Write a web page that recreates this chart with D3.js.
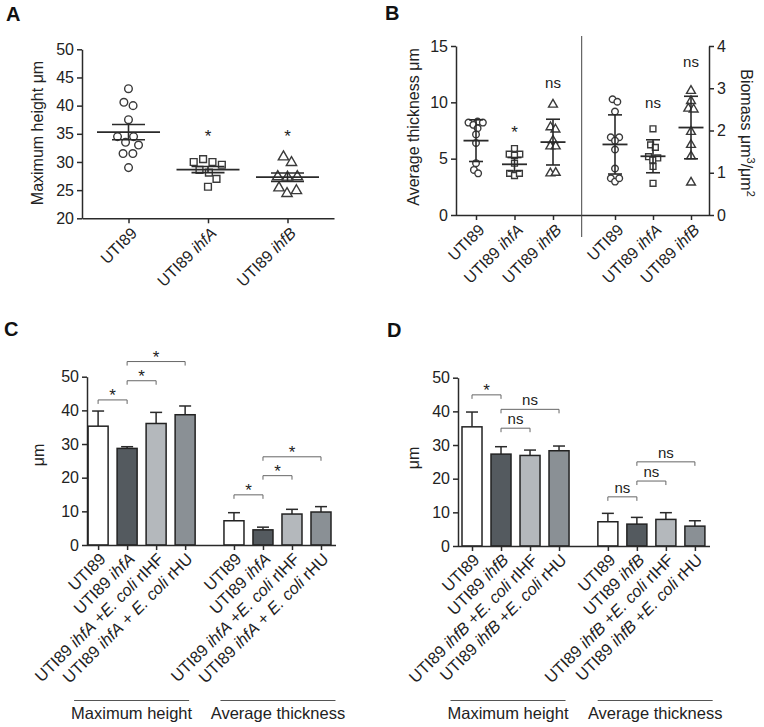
<!DOCTYPE html>
<html><head><meta charset="utf-8">
<script src="https://cdn.jsdelivr.net/npm/d3@7"></script>
<style>
body{margin:0;background:#fff}
svg{display:block}
</style>
</head><body>
<svg id="chart" width="764" height="727"></svg>
<script>
// ---------------- DATA ----------------
// Panel A: maximum height (µm), individual biofilms
const catsA = ["UTI89", "UTI89 ihfA", "UTI89 ihfB"];
const maxHeightUTI89 = [43, 40.6, 40, 37.5, 34.5, 34.5, 33.5, 33, 31.5, 31.5, 29];
const maxHeightIhfA = [30.5, 30, 30, 29.5, 28.6, 28.1, 27, 25.6];
const maxHeightIhfB = [30.9, 29.9, 27.4, 27.3, 27.4, 25.4, 24.4, 24.9];
const maxHeightMean = [35.3, 28.65, 27.3];
const maxHeightSEM = [1.35, 0.55, 0.75];
const maxHeightSig = ["", "*", "*"];
const maxHeightSigAt = [null, 33.5, 33.5];
const ticksA = [20, 25, 30, 35, 40, 45, 50];

// Panel B: average thickness (µm) and biomass (µm3/µm2)
const catsB = ["UTI89", "UTI89 ihfA", "UTI89 ihfB"];
const thickUTI89 = [8.2, 8.3, 8.2, 8.0, 7.7, 7.15, 6.4, 4.6, 4.0, 3.7];
const thickIhfA = [5.9, 5.4, 5.4, 5.3, 4.6, 3.7, 3.5, 3.7];
const thickIhfB = [9.8, 7.8, 7.6, 6.6, 6.1, 6.1, 3.7, 3.75];
const thickMean = [6.6, 4.5, 6.47];
const thickSD = [1.85, 0.6, 2.03];
const thickSig = ["", "*", "ns"];
const thickSigAt = [null, 6.83, 11.27];
const bioUTI89 = [2.74, 2.68, 2.45, 1.84, 1.84, 1.76, 1.55, 1.1, 0.87, 0.79, 0.87];
const bioIhfA = [2.04, 1.66, 1.6, 1.38, 1.35, 1.3, 1.15, 0.75];
const bioIhfB = [2.94, 2.7, 2.52, 2.5, 1.97, 1.66, 1.39, 0.77];
const bioMean = [1.67, 1.39, 2.07];
const bioSD = [0.7, 0.39, 0.74];
const bioSig = ["", "ns", "ns"];
const bioSigAt = [null, 2.53, 3.5];
const ticksBLeft = [0, 5, 10, 15];
const ticksBRight = [0, 1, 2, 3, 4];

// Panels C and D: bar charts (mean + error)
const groups = ["Maximum height", "Average thickness"];
const condC = ["UTI89", "UTI89 ihfA", "UTI89 ihfA +E. coli rIHF", "UTI89 ihfA + E. coli rHU"];
const cMaxHeight = [35.3, 28.7, 36.1, 38.7];
const cMaxHeightErr = [4.5, 0.5, 3.3, 2.6];
const cAvgThick = [7.2, 4.5, 9.2, 9.8];
const cAvgThickErr = [2.4, 0.8, 1.4, 1.6];
const cBrackets = [
  {g: 0, a: 0, b: 1, y: 43.1, label: "*"},
  {g: 0, a: 1, b: 2, y: 48.8, label: "*"},
  {g: 0, a: 1, b: 3, y: 54.5, label: "*"},
  {g: 1, a: 0, b: 1, y: 14.9, label: "*"},
  {g: 1, a: 1, b: 2, y: 20.6, label: "*"},
  {g: 1, a: 1, b: 3, y: 26.2, label: "*"}
];
const condD = ["UTI89", "UTI89 ihfB", "UTI89 ihfB +E. coli rIHF", "UTI89 ihfB +E. coli rHU"];
const dMaxHeight = [35.4, 27.3, 26.9, 28.3];
const dMaxHeightErr = [4.4, 2.2, 1.6, 1.4];
const dAvgThick = [7.2, 6.5, 7.9, 5.9];
const dAvgThickErr = [2.5, 2.0, 2.0, 1.6];
const dBrackets = [
  {g: 0, a: 0, b: 1, y: 44.9, label: "*"},
  {g: 0, a: 1, b: 2, y: 35.0, label: "ns"},
  {g: 0, a: 1, b: 3, y: 40.6, label: "ns"},
  {g: 1, a: 0, b: 1, y: 14.6, label: "ns"},
  {g: 1, a: 1, b: 2, y: 19.3, label: "ns"},
  {g: 1, a: 1, b: 3, y: 25.0, label: "ns"}
];
const ticksCD = [0, 10, 20, 30, 40, 50];
const barColors = ["#ffffff", "#545a5f", "#b4b8bc", "#8a9095"];

// ---------------- DRAWING ----------------
const FONT = "'Liberation Sans', Arial, Helvetica, sans-serif";
const INK = "#2a2a2a";
const svg = d3.select("#chart").attr("font-family", FONT);
svg.append("rect").attr("width", 764).attr("height", 727).attr("fill", "#fff");

function styleAxis(g, fs) {
  g.attr("font-family", FONT).attr("font-size", fs).attr("color", INK);
  g.selectAll("path,line").attr("stroke-width", 1.5);
  g.selectAll("text").attr("fill", "#222");
}
function richLabel(t, label) {
  t.text(null);
  label.split(/(ihfA|ihfB|E\. coli)/).filter(s => s.length).forEach(s => {
    t.append("tspan").text(s)
      .attr("font-style", /^(ihfA|ihfB|E\. coli)$/.test(s) ? "italic" : "normal");
  });
}
function rotLabels(g, labelOf, dx, dy) {
  g.selectAll(".tick text").each(function (d) {
    const t = d3.select(this);
    richLabel(t, labelOf(d));
    t.attr("text-anchor", "end").attr("x", 0).attr("y", 0).attr("dy", "0.35em")
      .attr("transform", `translate(${dx},${dy}) rotate(-45)`);
  });
}
function panelLabel(txt, x, y) {
  svg.append("text").attr("x", x).attr("y", y).text(txt)
    .attr("font-size", 20).attr("font-weight", "bold").attr("fill", "#111");
}
function vTitle(g, x, y, rot, build, fs) {
  const t = g.append("text").attr("transform", `translate(${x},${y}) rotate(${rot})`)
    .attr("text-anchor", "middle").attr("dy", "0.35em").attr("font-size", fs).attr("fill", "#222");
  build(t);
  return t;
}
function swarm(vals, cx, yScale, r) {
  const n = vals.length;
  const nodes = vals.map((v, i) => ({v, x: cx + (i - (n - 1) / 2) * 0.6, y: yScale(v), fy: yScale(v)}));
  const sim = d3.forceSimulation(nodes)
    .force("x", d3.forceX(cx).strength(0.06))
    .force("c", d3.forceCollide(r).iterations(3))
    .stop();
  for (let i = 0; i < 400; i++) sim.tick();
  return nodes;
}
const symTypes = [d3.symbolCircle, d3.symbolSquare, d3.symbolTriangle];

function dotGroup(g, vals, cx, yScale, symIdx, symSize, collideR) {
  const nodes = swarm(vals, cx, yScale, collideR);
  g.selectAll(null).data(nodes).join("path")
    .attr("d", d3.symbol().type(symTypes[symIdx]).size(symSize))
    .attr("transform", d => `translate(${d.x},${d.y})`)
    .attr("fill", "#fff").attr("stroke", "#3a3a3a").attr("stroke-width", 1.4);
}
function meanErr(g, cx, mean, err, yScale, halfMean, halfCap) {
  g.append("line").attr("x1", cx - halfMean).attr("x2", cx + halfMean)
    .attr("y1", yScale(mean)).attr("y2", yScale(mean)).attr("stroke", INK).attr("stroke-width", 1.8);
  g.append("line").attr("x1", cx).attr("x2", cx)
    .attr("y1", yScale(mean + err)).attr("y2", yScale(mean - err)).attr("stroke", INK).attr("stroke-width", 1.6);
  [mean + err, mean - err].forEach(v => {
    g.append("line").attr("x1", cx - halfCap).attr("x2", cx + halfCap)
      .attr("y1", yScale(v)).attr("y2", yScale(v)).attr("stroke", INK).attr("stroke-width", 1.6);
  });
}
function sigText(g, x, y, label) {
  g.append("text").attr("x", x).attr("y", y).attr("text-anchor", "middle")
    .attr("font-size", label === "*" ? 17 : 15).attr("fill", "#222").text(label);
}

// ===== Panel A =====
(function () {
  const g = svg.append("g");
  const y = d3.scaleLinear().domain([20, 50]).range([218.3, 49.3]);
  const x = d3.scalePoint().domain(catsA).range([82, 334]).padding(0.585);
  g.append("g").attr("transform", "translate(82,0)")
    .call(d3.axisLeft(y).tickValues(ticksA).tickSize(5).tickSizeOuter(0).tickPadding(3))
    .call(styleAxis, 16);
  const xa = g.append("g").attr("transform", "translate(0,218.3)")
    .call(d3.axisBottom(x).tickSize(5).tickSizeOuter(0))
    .call(styleAxis, 16);
  rotLabels(xa, d => d, 5, 12);
  const series = [maxHeightUTI89, maxHeightIhfA, maxHeightIhfB];
  series.forEach((vals, i) => dotGroup(g, vals, x(catsA[i]), y, i, 46, 4.9));
  catsA.forEach((c, i) => {
    meanErr(g, x(c), maxHeightMean[i], maxHeightSEM[i], y, 31.5, 16.5);
    if (maxHeightSig[i]) sigText(g, x(c), y(maxHeightSigAt[i]), maxHeightSig[i]);
  });
  vTitle(g, 37, 133, -90, t => t.text("Maximum height μm"), 16);
  panelLabel("A", 6, 21);
})();

// ===== Panel B =====
(function () {
  const g = svg.append("g");
  const yL = d3.scaleLinear().domain([0, 15]).range([215, 46]);
  const yR = d3.scaleLinear().domain([0, 4]).range([215, 46]);
  const xL = d3.scalePoint().domain(catsB).range([476, 553]);
  const xR = d3.scalePoint().domain(catsB).range([615, 691]);
  g.append("g").attr("transform", "translate(456,0)")
    .call(d3.axisLeft(yL).tickValues(ticksBLeft).tickSize(5).tickSizeOuter(0).tickPadding(3))
    .call(styleAxis, 16);
  g.append("g").attr("transform", "translate(709,0)")
    .call(d3.axisRight(yR).tickValues(ticksBRight).tickFormat(d3.format("d")).tickSize(5).tickSizeOuter(0).tickPadding(3))
    .call(styleAxis, 16);
  const xKeys = catsB.map(c => "L|" + c).concat(catsB.map(c => "R|" + c));
  const xAll = d3.scaleOrdinal().domain(xKeys)
    .range(catsB.map(c => xL(c)).concat(catsB.map(c => xR(c))));
  const xa = g.append("g").attr("transform", "translate(0,215)")
    .call(d3.axisBottom(xAll).tickSize(5).tickSizeOuter(0))
    .call(styleAxis, 16);
  xa.select(".domain").remove();
  xa.append("line").attr("x1", 456).attr("x2", 709).attr("y1", 0.5).attr("y2", 0.5)
    .attr("stroke", INK).attr("stroke-width", 1.5);
  rotLabels(xa, d => d.split("|")[1], 5, 12);
  g.append("line").attr("x1", 581.7).attr("x2", 581.7).attr("y1", 36).attr("y2", 237)
    .attr("stroke", "#444").attr("stroke-width", 1);

  [thickUTI89, thickIhfA, thickIhfB].forEach((vals, i) => dotGroup(g, vals, xL(catsB[i]), yL, i, 34, 2.7));
  [bioUTI89, bioIhfA, bioIhfB].forEach((vals, i) => dotGroup(g, vals, xR(catsB[i]), yR, i, 34, 2.7));
  catsB.forEach((c, i) => {
    meanErr(g, xL(c), thickMean[i], thickSD[i], yL, 12.5, 7);
    meanErr(g, xR(c), bioMean[i], bioSD[i], yR, 12.5, 7);
    if (thickSig[i]) sigText(g, xL(c), yL(thickSigAt[i]), thickSig[i]);
    if (bioSig[i]) sigText(g, xR(c), yR(bioSigAt[i]), bioSig[i]);
  });
  vTitle(g, 413, 127, -90, t => t.text("Average thickness μm"), 16);
  vTitle(g, 747, 133, 90, t => {
    t.append("tspan").text("Biomass μm");
    t.append("tspan").text("3").attr("dy", -6).attr("font-size", 11);
    t.append("tspan").text("/μm").attr("dy", 6);
    t.append("tspan").text("2").attr("dy", -6).attr("font-size", 11);
  }, 16);
  panelLabel("B", 385, 20);
})();

// ===== Panels C & D =====
function barPanel(o) {
  const g = svg.append("g");
  const y = d3.scaleLinear().domain([0, 50]).range([o.y0, o.y50]);
  const x0 = d3.scaleBand().domain(groups).range(o.groupRange).paddingInner(0.146).paddingOuter(0);
  const x1 = d3.scaleBand().domain(o.conds).range([0, x0.bandwidth()]).paddingInner(0.31).paddingOuter(0.155);
  const cx = (gi, ci) => x0(groups[gi]) + x1(o.conds[ci]) + x1.bandwidth() / 2;

  g.append("g").attr("transform", `translate(${o.axisX},0)`)
    .call(d3.axisLeft(y).tickValues(ticksCD).tickSize(5).tickSizeOuter(0).tickPadding(3))
    .call(styleAxis, 16);

  const keys = [], pos = [];
  groups.forEach((gr, gi) => o.conds.forEach((c, ci) => { keys.push(gi + "|" + c); pos.push(cx(gi, ci)); }));
  const xAll = d3.scaleOrdinal().domain(keys).range(pos);
  const xa = g.append("g").attr("transform", `translate(0,${o.y0})`)
    .call(d3.axisBottom(xAll).tickSize(5).tickSizeOuter(0))
    .call(styleAxis, 16.5);
  xa.select(".domain").remove();
  rotLabels(xa, d => d.split("|")[1], 4, 11);

  const series = [[o.max, o.maxErr], [o.avg, o.avgErr]];
  series.forEach(([vals, errs], gi) => {
    vals.forEach((v, ci) => {
      const xc = cx(gi, ci), bw = x1.bandwidth();
      g.append("line").attr("x1", xc).attr("x2", xc).attr("y1", y(v)).attr("y2", y(v + errs[ci]))
        .attr("stroke", INK).attr("stroke-width", 1.5);
      g.append("line").attr("x1", xc - 6).attr("x2", xc + 6).attr("y1", y(v + errs[ci])).attr("y2", y(v + errs[ci]))
        .attr("stroke", INK).attr("stroke-width", 1.5);
      g.append("rect").attr("x", xc - bw / 2).attr("width", bw)
        .attr("y", y(v)).attr("height", y(0) - y(v))
        .attr("fill", barColors[ci]).attr("stroke", "#222").attr("stroke-width", 1.5);
    });
  });
  g.append("line").attr("x1", o.axisX).attr("x2", o.axisEnd).attr("y1", o.y0 + 0.5).attr("y2", o.y0 + 0.5)
    .attr("stroke", INK).attr("stroke-width", 1.6);

  o.brackets.forEach(b => {
    const xa1 = cx(b.g, b.a), xb1 = cx(b.g, b.b), yy = y(b.y);
    g.append("path").attr("d", `M${xa1},${yy + 4}V${yy}H${xb1}V${yy + 4}`)
      .attr("fill", "none").attr("stroke", "#666").attr("stroke-width", 1);
    sigText(g, (xa1 + xb1) / 2, b.label === "*" ? yy + 1 : yy - 4, b.label);
  });

  groups.forEach((gr, gi) => {
    const mid = x0(gr) + x0.bandwidth() / 2 + o.groupShift[gi];
    g.append("line").attr("x1", mid - 57.5).attr("x2", mid + 57.5).attr("y1", 700.5).attr("y2", 700.5)
      .attr("stroke", "#555").attr("stroke-width", 1);
    g.append("text").attr("x", mid).attr("y", 719).attr("text-anchor", "middle")
      .attr("font-size", 16.5).attr("fill", "#222").text(gr);
  });
  vTitle(g, o.titleX, o.titleY, -90, t => t.text("μm"), 16);
}

barPanel({
  conds: condC, max: cMaxHeight, maxErr: cMaxHeightErr, avg: cAvgThick, avgErr: cAvgThickErr,
  brackets: cBrackets, y0: 545, y50: 376.7, axisX: 87, axisEnd: 336,
  groupRange: [83.6, 335.5], groupShift: [-10, 0.5], titleX: 38, titleY: 455
});
barPanel({
  conds: condD, max: dMaxHeight, maxErr: dMaxHeightErr, avg: dAvgThick, avgErr: dAvgThickErr,
  brackets: dBrackets, y0: 546, y50: 377.7, axisX: 458, axisEnd: 710,
  groupRange: [457.5, 709.4], groupShift: [-7.5, 3.8], titleX: 413, titleY: 458
});
panelLabel("C", 4, 336);
panelLabel("D", 387, 337);
</script>
</body></html>
